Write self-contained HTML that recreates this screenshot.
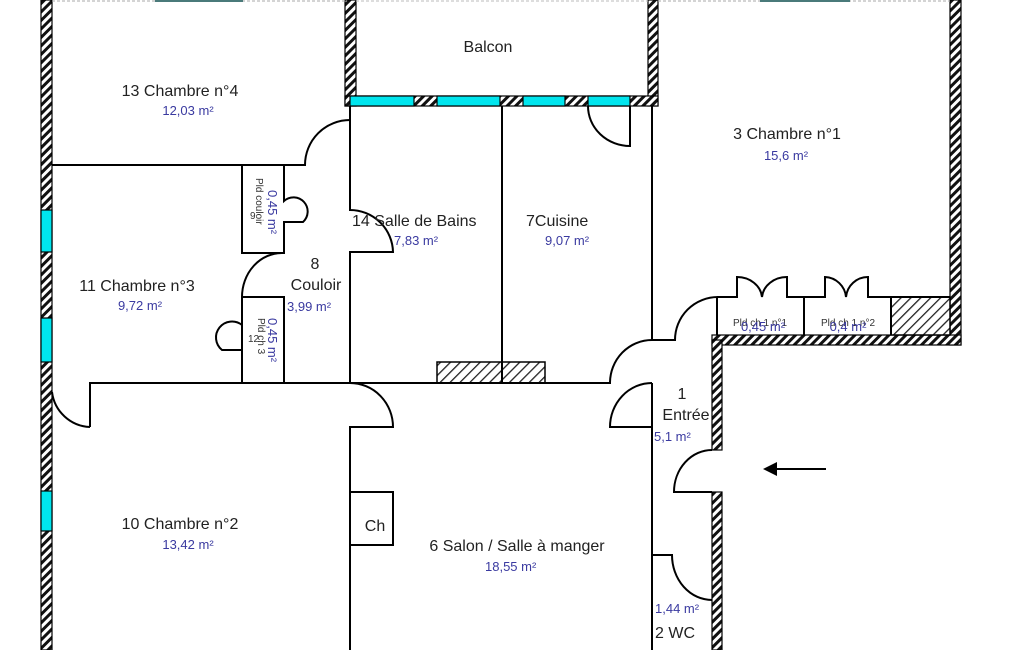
<!DOCTYPE html>
<html><head><meta charset="utf-8"><style>
html,body{margin:0;padding:0;background:#fff;width:1025px;height:650px;overflow:hidden}
svg{display:block}
text{font-family:"Liberation Sans",sans-serif}
.k{fill:#222;font-size:16px}
.b{fill:#3a3aa0;font-size:13px}
.s{fill:#333;font-size:10px}
</style></head><body>
<svg width="1025" height="650" viewBox="0 0 1025 650" xmlns="http://www.w3.org/2000/svg">
<defs>
<pattern id="h" patternUnits="userSpaceOnUse" width="6" height="6" patternTransform="rotate(45)">
<rect width="6" height="6" fill="#fff"/><rect width="3" height="6" fill="#111"/>
</pattern>
<pattern id="h2" patternUnits="userSpaceOnUse" width="7" height="7" patternTransform="rotate(45)">
<rect width="7" height="7" fill="#fff"/><rect width="1.3" height="7" fill="#222"/>
</pattern>
</defs>
<g stroke="#000" stroke-width="1.2">
<rect x="41" y="0" width="11" height="650" fill="url(#h)"/>
<rect x="345" y="0" width="11" height="106" fill="url(#h)"/>
<rect x="648" y="0" width="10" height="106" fill="url(#h)"/>
<rect x="950" y="0" width="11" height="345" fill="url(#h)"/>
<rect x="345" y="96" width="313" height="10" fill="url(#h)"/>
<rect x="712" y="335" width="249" height="10" fill="url(#h)"/>
<rect x="712" y="340" width="10" height="110" fill="url(#h)"/>
<rect x="712" y="492" width="10" height="158" fill="url(#h)"/>
</g>
<g fill="#00e5ee" stroke="#000" stroke-width="1.2">
<rect x="41" y="210" width="11" height="42"/>
<rect x="41" y="318" width="11" height="44"/>
<rect x="41" y="491" width="11" height="40"/>
<rect x="350" y="96" width="64" height="10"/>
<rect x="437" y="96" width="63" height="10"/>
<rect x="523" y="96" width="42" height="10"/>
<rect x="588" y="96" width="42" height="10"/>
</g>
<line x1="52" y1="1" x2="345" y2="1" stroke="#aaa" stroke-dasharray="3,2"/>
<line x1="658" y1="1" x2="950" y2="1" stroke="#aaa" stroke-dasharray="3,2"/>
<line x1="356" y1="1" x2="648" y2="1" stroke="#bbb" stroke-dasharray="3,2"/>
<rect x="155" y="0" width="88" height="2" fill="#4a7a7a"/>
<rect x="760" y="0" width="90" height="2" fill="#4a7a7a"/>
<g stroke="#000" stroke-width="1.5">
<rect x="437" y="362" width="108" height="21" fill="url(#h2)"/>
<rect x="891" y="297" width="59" height="38" fill="url(#h2)"/>
</g>
<g fill="none" stroke="#000" stroke-width="2">
<path d="M52 165 H305 A45 45 0 0 1 350 120"/>
<path d="M350 106 V210 A43 43 0 0 1 393 252 H350 V383"/>
<path d="M242 165 V253 H284 V222 H303 A12 12 0 0 0 284 201 V165"/>
<path d="M242 297 A40 44 0 0 1 282 253"/>
<path d="M242 297 V383 M242 297 H284 V383"/>
<path d="M242 325 A12 12 0 0 0 222 350 H242"/>
<path d="M90 427 V383 H610 A42 43 0 0 1 652 340"/>
<path d="M90 427 A40 40 0 0 1 52 392"/>
<path d="M350 383 A43 44 0 0 1 393 427 H350 V650"/>
<rect x="350" y="492" width="43" height="53"/>
<path d="M502 106 V383"/>
<path d="M630 106 V146 A42 40 0 0 1 588 106"/>
<path d="M652 106 V340 M652 383 V650"/>
<path d="M652 383 A42 44 0 0 0 610 427 H652"/>
<path d="M652 340 H675 A43 43 0 0 1 718 297"/>
<path d="M717 297 V335 M804 297 V335 M891 297 V335"/>
<path d="M717 297 H737 V277 A25 22 0 0 1 762 297 A25 22 0 0 1 787 277 V297 H825 V277 A22 22 0 0 1 846 297 A22 22 0 0 1 868 277 V297 H950"/>
<path d="M712 450 A38 42 0 0 0 674 492 H712"/>
<path d="M652 555 H672 A40 45 0 0 0 712 600"/>
</g>
<line x1="775" y1="469" x2="826" y2="469" stroke="#000" stroke-width="2"/>
<path d="M763 469 L777 462 L777 476 Z" fill="#000"/>
<text x="180" y="96" class="k" text-anchor="middle">13  Chambre n°4</text>
<text x="188" y="115" class="b" text-anchor="middle">12,03  m²</text>
<text x="488" y="52" class="k" text-anchor="middle">Balcon</text>
<text x="787" y="139" class="k" text-anchor="middle">3   Chambre n°1</text>
<text x="786" y="160" class="b" text-anchor="middle">15,6  m²</text>
<text x="352" y="226" class="k">14  Salle de Bains</text>
<text x="394" y="245" class="b">7,83  m²</text>
<text x="526" y="226" class="k">7Cuisine</text>
<text x="545" y="245" class="b">9,07  m²</text>
<text x="315" y="269" class="k" text-anchor="middle">8</text>
<text x="316" y="290" class="k" text-anchor="middle">Couloir</text>
<text x="287" y="311" class="b">3,99  m²</text>
<text x="137" y="291" class="k" text-anchor="middle">11  Chambre n°3</text>
<text x="140" y="310" class="b" text-anchor="middle">9,72  m²</text>
<text x="180" y="529" class="k" text-anchor="middle">10  Chambre n°2</text>
<text x="188" y="549" class="b" text-anchor="middle">13,42  m²</text>
<text x="375" y="531" class="k" text-anchor="middle">Ch</text>
<text x="517" y="551" class="k" text-anchor="middle">6  Salon / Salle à manger</text>
<text x="485" y="571" class="b">18,55  m²</text>
<text x="682" y="399" class="k" text-anchor="middle">1</text>
<text x="686" y="420" class="k" text-anchor="middle">Entrée</text>
<text x="654" y="441" class="b">5,1  m²</text>
<text x="655" y="613" class="b">1,44  m²</text>
<text x="655" y="638" class="k">2   WC</text>
<text x="760" y="326" class="s" text-anchor="middle">Pld ch 1 n°1</text>
<text x="763" y="331" class="b" text-anchor="middle">0,45  m²</text>
<text x="848" y="326" class="s" text-anchor="middle">Pld ch 1 n°2</text>
<text x="848" y="331" class="b" text-anchor="middle">0,4  m²</text>
<text x="250" y="219" class="s">9</text>
<text x="248" y="342" class="s">12</text>
<g transform="translate(256,178) rotate(90)"><text class="s">Pld couloir</text></g>
<g transform="translate(268,190) rotate(90)"><text class="b">0,45 m²</text></g>
<g transform="translate(258,318) rotate(90)"><text class="s">Pld ch 3</text></g>
<g transform="translate(268,318) rotate(90)"><text class="b">0,45 m²</text></g>
</svg>
</body></html>
